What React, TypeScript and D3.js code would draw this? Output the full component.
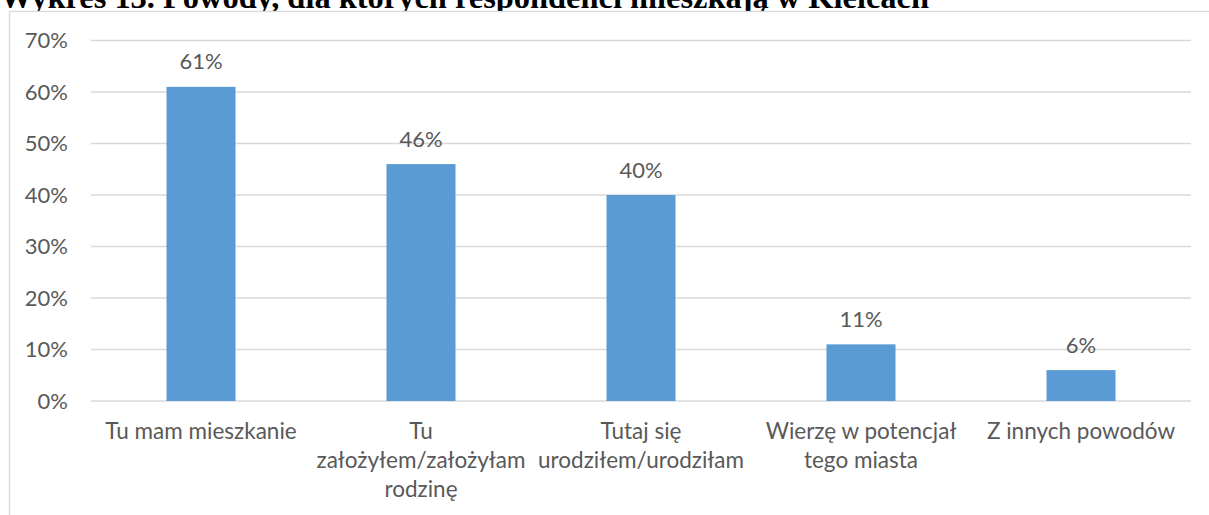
import React from "react";
import * as d3 from "d3";

const categories = [
  "Tu mam mieszkanie",
  "Tu założyłem/założyłam rodzinę",
  "Tutaj się urodziłem/urodziłam",
  "Wierzę w potencjał tego miasta",
  "Z innych powodów",
];
const categoryLines = [
  ["Tu mam mieszkanie"],
  ["Tu", "założyłem/założyłam", "rodzinę"],
  ["Tutaj się", "urodziłem/urodziłam"],
  ["Wierzę w potencjał", "tego miasta"],
  ["Z innych powodów"],
];
const values = [0.61, 0.46, 0.4, 0.11, 0.06];
const yTicks = [0, 0.1, 0.2, 0.3, 0.4, 0.5, 0.6, 0.7];
const title = "Wykres 13. Powody, dla których respondenci mieszkają w Kielcach";

const W = 1209;
const H = 515;
const FONT = "Lato, 'Open Sans', sans-serif";
const TXT = "#595959";

export default function App() {
  const left = 91;
  const right = 1191;
  const y0 = 401;
  const yTop = 40.5;
  const p = 1 - 69 / 220;
  const x = d3.scaleBand<string>().domain(categories).range([left, right]).paddingInner(p).paddingOuter(p / 2);
  const y = d3.scaleLinear().domain([0, 0.7]).range([y0, yTop]);
  const pct = d3.format(".0%");

  return (
    <div style={{ position: "absolute", left: 0, top: 0, width: W, height: H, overflow: "hidden", background: "#fff" }}>
      <svg width={W} height={H} style={{ display: "block" }}>
        <text x={0} y={7.5} fontFamily="'Liberation Serif', 'Times New Roman', serif" fontWeight="bold" fontSize={32} fill="#000" textLength={929} lengthAdjust="spacingAndGlyphs">
          {title}
        </text>
        <rect x={9.5} y={11.5} width={W + 10} height={H + 10} fill="#fff" stroke="#D9D9D9" strokeWidth={1.3} />
        {yTicks.map((t) => (
          <g key={t}>
            <line x1={left} x2={right} y1={y(t)} y2={y(t)} stroke="#D9D9D9" strokeWidth={1.5} />
            <text x={68} y={y(t) + 7.5} textAnchor="end" fontFamily={FONT} fontSize={22} fill={TXT}>
              {pct(t)}
            </text>
          </g>
        ))}
        {categories.map((c, i) => (
          <g key={c}>
            <rect x={x(c)} y={y(values[i])} width={x.bandwidth()} height={y0 - y(values[i])} fill="#5B9BD5" />
            <text x={(x(c) as number) + x.bandwidth() / 2} y={y(values[i]) - 17.5} textAnchor="middle" fontFamily={FONT} fontSize={22} fill={TXT}>
              {pct(values[i])}
            </text>
            {categoryLines[i].map((ln, j) => (
              <text key={j} x={(x(c) as number) + x.bandwidth() / 2} y={439 + j * 29} textAnchor="middle" fontFamily={FONT} fontSize={22.5} fill={TXT}>
                {ln}
              </text>
            ))}
          </g>
        ))}
      </svg>
    </div>
  );
}
